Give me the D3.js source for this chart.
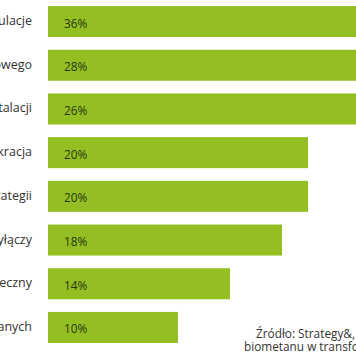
<!DOCTYPE html>
<html><head><meta charset="utf-8">
<script src="https://cdn.jsdelivr.net/npm/d3@7/dist/d3.min.js"></script>
<style>html,body{margin:0;padding:0;background:#fff;overflow:hidden}</style>
</head><body>
<svg id="c" width="356" height="364"></svg>
<script>
const categories = ["Regulacje","Brak systemu wsparcia finansowego","Koszty instalacji","Biurokracja","Brak strategii","Dostępność przyłączy","Odbiór społeczny","Dostępność danych"];
const values = [36,28,26,20,20,18,14,10];
const sourceLines = ["Źródło: Strategy&, „Rola biogazu i","biometanu w transformacji energetycznej”"];

const svg = d3.select("#c");
const x = d3.scaleLinear().domain([0,20]).range([48,308]);
const y = d3.scaleBand().domain(categories).range([-0.5,349.5]).paddingInner(0.29).paddingOuter(0.15);

const g = svg.append("g");
g.selectAll("rect").data(values).join("rect")
  .attr("x", x(0)).attr("y",(d,i)=>y(categories[i]))
  .attr("width", d=>x(d)-x(0)).attr("height", y.bandwidth())
  .attr("fill","#93bf22");

g.selectAll("text.cat").data(categories).join("text").attr("class","cat")
  .attr("x",32).attr("y",d=>y(d)+y.bandwidth()/2+3.5)
  .attr("text-anchor","end").attr("font-family","Open Sans, sans-serif")
  .attr("font-size",12.5).attr("fill","#333").text(d=>d);

g.selectAll("text.val").data(values).join("text").attr("class","val")
  .attr("x",64).attr("y",(d,i)=>y(categories[i])+y.bandwidth()/2+6)
  .attr("font-family","Open Sans, sans-serif")
  .attr("font-size",11.8).attr("fill","#2a3510").text(d=>d+"%");

svg.selectAll("text.src").data(sourceLines).join("text").attr("class","src")
  .attr("x",(d,i)=>i===0?256:244).attr("y",(d,i)=>338+i*13)
  .attr("font-family","Open Sans, sans-serif").attr("font-size",11.8)
  .attr("fill","#333").text(d=>d);
</script>
</body></html>
